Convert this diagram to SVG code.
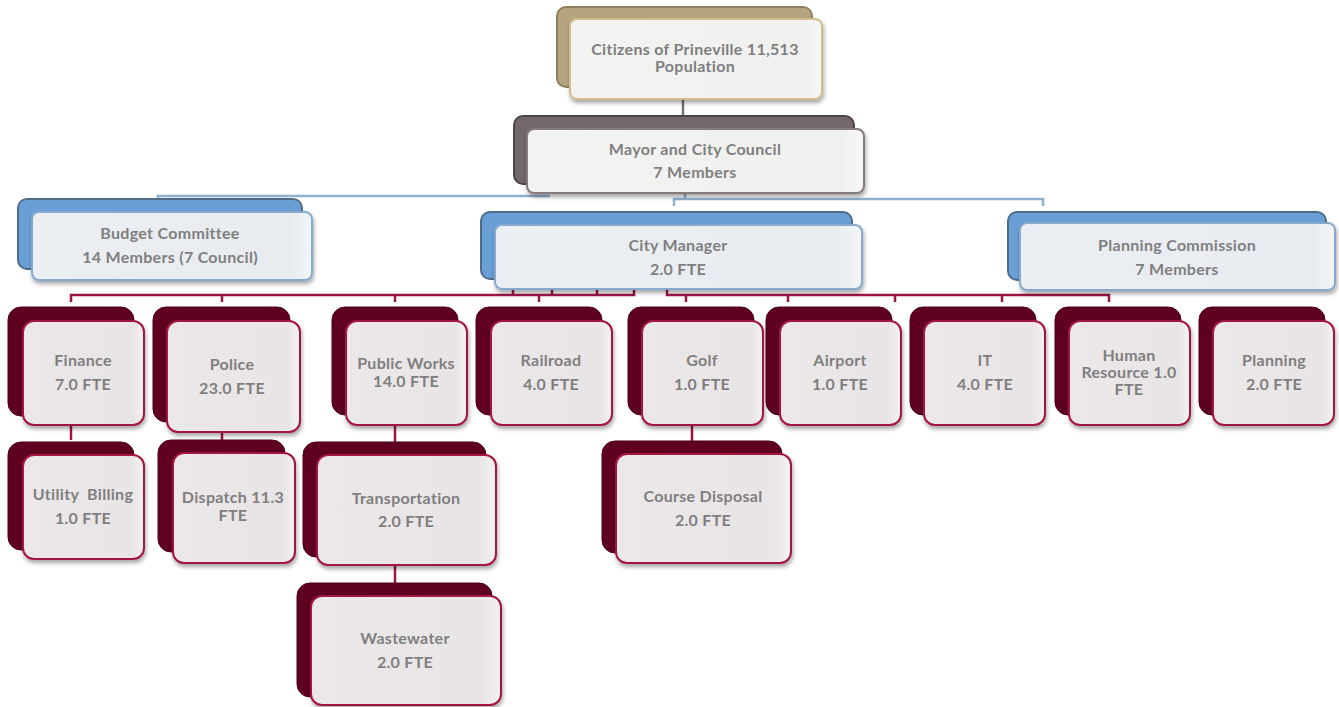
<svg xmlns="http://www.w3.org/2000/svg" width="1339" height="707" viewBox="0 0 1339 707">
<defs>
<filter id="sh" x="-10%" y="-10%" width="125%" height="130%">
<feDropShadow dx="1" dy="3" stdDeviation="2" flood-color="#000" flood-opacity="0.35"/>
</filter>
<linearGradient id="gF" x1="0" y1="0" x2="1" y2="0">
<stop offset="0" stop-color="#ece7e9"/><stop offset="0.9" stop-color="#e9e4e6"/><stop offset="1" stop-color="#f3f2f2"/>
</linearGradient>
<linearGradient id="gB" x1="0" y1="0" x2="1" y2="0">
<stop offset="0" stop-color="#ebeef2"/><stop offset="0.93" stop-color="#e8ecf0"/><stop offset="1" stop-color="#f3f5f7"/>
</linearGradient>
<linearGradient id="gW" x1="0" y1="0" x2="1" y2="0">
<stop offset="0" stop-color="#f3f3f2"/><stop offset="0.93" stop-color="#f0f0ef"/><stop offset="1" stop-color="#f8f8f8"/>
</linearGradient>
</defs>
<style>
text{font-family:"Lato","Liberation Sans",sans-serif;font-weight:bold;font-size:16px;letter-spacing:0.3px;fill:#7f7f7f;text-anchor:middle}
.bkM{fill:#5f0020;stroke:#4a0019;stroke-width:1}
.frM{fill:url(#gF);stroke:#a3153f;stroke-width:2;filter:url(#sh)}
.bkB{fill:#6a9fd6;stroke:#4f6c88;stroke-width:2}
.frB{fill:url(#gB);stroke:#86aacd;stroke-width:2;filter:url(#sh)}
.bkT{fill:#b5a47f;stroke:#8f7e5c;stroke-width:2}
.frT{fill:url(#gW);stroke:#d6bc8c;stroke-width:2;filter:url(#sh)}
.bkG{fill:#726769;stroke:#4c4445;stroke-width:2}
.frG{fill:url(#gW);stroke:#857a7c;stroke-width:2;filter:url(#sh)}
.cM{fill:none;stroke:#9c1541;stroke-width:2.5}
.cB{fill:none;stroke:#8fb0cf;stroke-width:2.5}
.cG{fill:none;stroke:#7a7071;stroke-width:2.5}
</style>

<g id="connectors">
<path class="cG" d="M683,99 V116"/>
<path class="cB" d="M158,201 V196 H550"/>
<path class="cB" d="M685,193 V199"/>
<path class="cB" d="M674,206 V199 H1043 V206"/>
<path class="cM" d="M71,302 V295 H634 V282"/>
<path class="cM" d="M513,282 V295 M552,282 V295 M597,282 V295"/>
<path class="cM" d="M222,295 V302 M395,295 V302 M539,295 V302"/>
<path class="cM" d="M667,282 V295 H1109 V302"/>
<path class="cM" d="M686,295 V302 M788,295 V302 M895,295 V302 M1002,295 V302"/>
<path class="cM" d="M71,424 V440"/>
<path class="cM" d="M222,432 V440"/>
<path class="cM" d="M395,424 V442"/>
<path class="cM" d="M395,565 V583"/>
<path class="cM" d="M692,424 V441"/>
</g>

<g id="citizens">
<rect class="bkT" x="557" y="7" width="255" height="80" rx="9"/>
<rect class="frT" x="570" y="19" width="252" height="80" rx="7"/>
<text x="695" y="55">Citizens of Prineville 11,513</text>
<text x="695" y="72">Population</text>
</g>

<g id="mayor">
<rect class="bkG" x="514" y="116" width="340" height="68" rx="9"/>
<rect class="frG" x="527" y="129" width="337" height="64" rx="7"/>
<text x="695" y="155">Mayor and City Council</text>
<text x="695" y="178">7 Members</text>
</g>

<g id="budget">
<rect class="bkB" x="18" y="199" width="284" height="70" rx="9"/>
<rect class="frB" x="32" y="212" width="280" height="68" rx="7"/>
<text x="170" y="239">Budget Committee</text>
<text x="170" y="263">14 Members (7 Council)</text>
</g>

<g id="citymanager">
<rect class="bkB" x="481" y="212" width="371" height="67" rx="9"/>
<rect class="frB" x="495" y="225" width="367" height="64" rx="7"/>
<text x="678" y="251">City Manager</text>
<text x="678" y="275">2.0 FTE</text>
</g>

<g id="planningcommission">
<rect class="bkB" x="1008" y="212" width="318" height="68" rx="9"/>
<rect class="frB" x="1020" y="223" width="315" height="67" rx="7"/>
<text x="1177" y="251">Planning Commission</text>
<text x="1177" y="275">7 Members</text>
</g>

<g id="finance">
<rect class="bkM" x="8" y="307" width="126" height="109" rx="13"/>
<rect class="frM" x="23" y="321" width="121" height="104" rx="11"/>
<text x="83" y="366">Finance</text>
<text x="83" y="390">7.0 FTE</text>
</g>

<g id="police">
<rect class="bkM" x="153" y="307" width="137" height="115" rx="13"/>
<rect class="frM" x="167" y="321" width="133" height="111" rx="11"/>
<text x="232" y="370">Police</text>
<text x="232" y="394">23.0 FTE</text>
</g>

<g id="publicworks">
<rect class="bkM" x="332" y="307" width="126" height="108" rx="13"/>
<rect class="frM" x="346" y="321" width="121" height="104" rx="11"/>
<text x="406" y="369">Public Works</text>
<text x="406" y="387">14.0 FTE</text>
</g>

<g id="railroad">
<rect class="bkM" x="476" y="307" width="126" height="108" rx="13"/>
<rect class="frM" x="491" y="321" width="121" height="104" rx="11"/>
<text x="551" y="366">Railroad</text>
<text x="551" y="390">4.0 FTE</text>
</g>

<g id="golf">
<rect class="bkM" x="628" y="307" width="126" height="108" rx="13"/>
<rect class="frM" x="642" y="321" width="121" height="104" rx="11"/>
<text x="702" y="366">Golf</text>
<text x="702" y="390">1.0 FTE</text>
</g>

<g id="airport">
<rect class="bkM" x="766" y="307" width="126" height="108" rx="13"/>
<rect class="frM" x="780" y="321" width="121" height="104" rx="11"/>
<text x="840" y="366">Airport</text>
<text x="840" y="390">1.0 FTE</text>
</g>

<g id="it">
<rect class="bkM" x="910" y="307" width="126" height="108" rx="13"/>
<rect class="frM" x="924" y="321" width="121" height="104" rx="11"/>
<text x="985" y="366">IT</text>
<text x="985" y="390">4.0 FTE</text>
</g>

<g id="humanresource">
<rect class="bkM" x="1055" y="307" width="126" height="108" rx="13"/>
<rect class="frM" x="1069" y="321" width="121" height="104" rx="11"/>
<text x="1129" y="361">Human</text>
<text x="1129" y="378">Resource 1.0</text>
<text x="1129" y="395">FTE</text>
</g>

<g id="planning">
<rect class="bkM" x="1199" y="307" width="126" height="108" rx="13"/>
<rect class="frM" x="1213" y="321" width="121" height="104" rx="11"/>
<text x="1274" y="366">Planning</text>
<text x="1274" y="390">2.0 FTE</text>
</g>

<g id="utilitybilling">
<rect class="bkM" x="8" y="442" width="126" height="108" rx="13"/>
<rect class="frM" x="23" y="455" width="121" height="104" rx="11"/>
<text x="83" y="500" xml:space="preserve">Utility  Billing</text>
<text x="83" y="524">1.0 FTE</text>
</g>

<g id="dispatch">
<rect class="bkM" x="158" y="440" width="127" height="112" rx="13"/>
<rect class="frM" x="173" y="453" width="122" height="110" rx="11"/>
<text x="233" y="503">Dispatch 11.3</text>
<text x="233" y="521">FTE</text>
</g>

<g id="transportation">
<rect class="bkM" x="303" y="442" width="183" height="115" rx="13"/>
<rect class="frM" x="317" y="455" width="179" height="110" rx="11"/>
<text x="406" y="504">Transportation</text>
<text x="406" y="527">2.0 FTE</text>
</g>

<g id="coursedisposal">
<rect class="bkM" x="602" y="441" width="180" height="112" rx="13"/>
<rect class="frM" x="616" y="454" width="175" height="109" rx="11"/>
<text x="703" y="502">Course Disposal</text>
<text x="703" y="526">2.0 FTE</text>
</g>

<g id="wastewater">
<rect class="bkM" x="297" y="583" width="195" height="114" rx="13"/>
<rect class="frM" x="311" y="596" width="190" height="109" rx="11"/>
<text x="405" y="644">Wastewater</text>
<text x="405" y="668">2.0 FTE</text>
</g>
</svg>
